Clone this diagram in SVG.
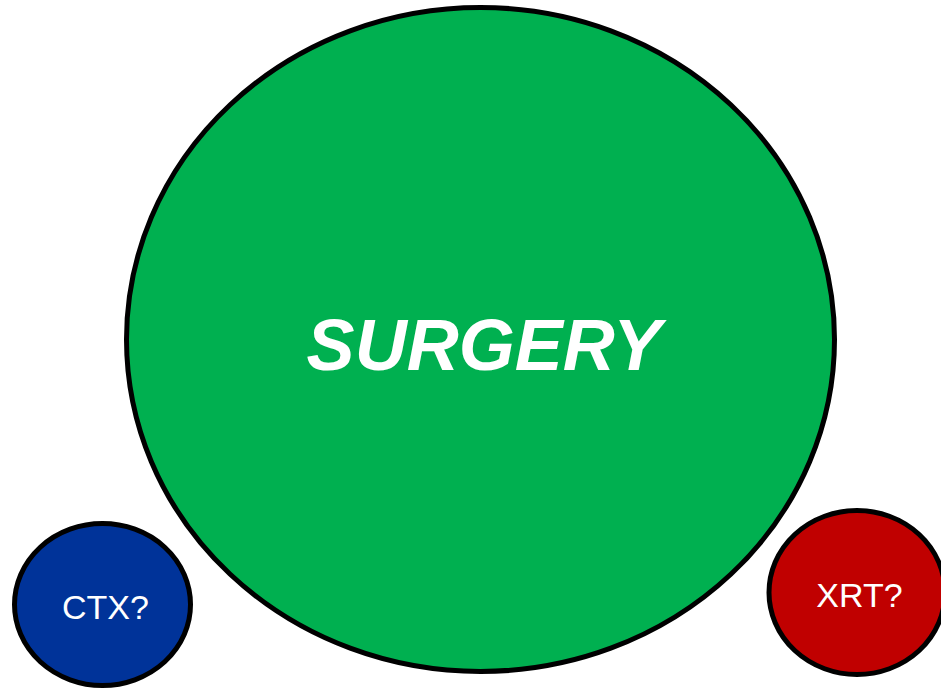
<svg xmlns="http://www.w3.org/2000/svg" width="941" height="691" viewBox="0 0 941 691">
<style>
.node{stroke:#000;stroke-width:5}
.lbl{fill:#fff;font-family:"Liberation Sans",Arial,sans-serif;text-anchor:middle}
</style>
<rect width="941" height="691" fill="#fff"/>
<g id="connectors"/>
<g id="surgery">
<ellipse class="node" cx="480.5" cy="339.5" rx="354" ry="332" fill="#00B050"/>
<text class="lbl" x="484" y="370" font-size="72" font-weight="bold" font-style="italic">SURGERY</text>
</g>
<g id="ctx">
<ellipse class="node" cx="102.5" cy="604.5" rx="88" ry="81" fill="#003399"/>
<text class="lbl" x="105.5" y="619" font-size="34">CTX?</text>
</g>
<g id="xrt">
<ellipse class="node" cx="857" cy="592.5" rx="88" ry="82" fill="#C00000"/>
<text class="lbl" x="859.5" y="607" font-size="34">XRT?</text>
</g>
</svg>
